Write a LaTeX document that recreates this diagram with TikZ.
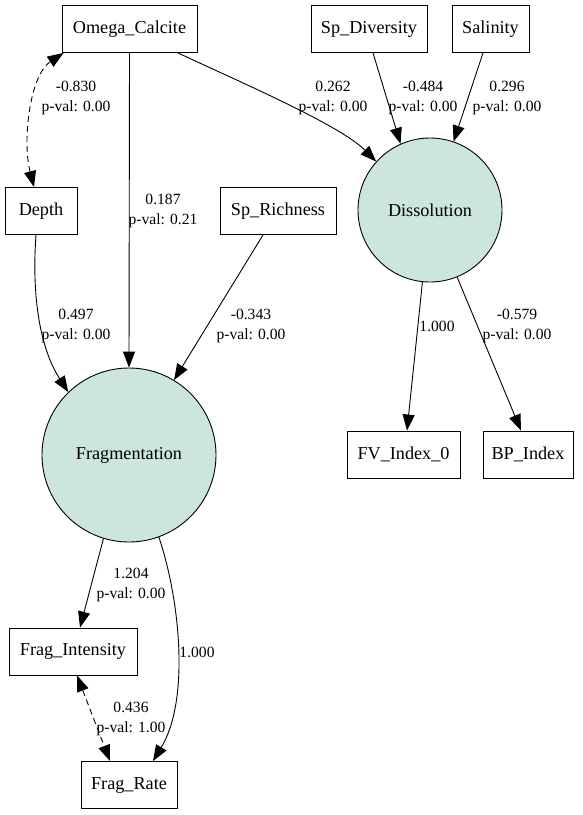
\documentclass[tikz,border=0pt]{standalone}
\usepackage{fontspec}
\setmainfont{Liberation Serif}
\usetikzlibrary{arrows.meta}
\definecolor{latfill}{RGB}{204,229,223}
\tikzset{
  obs/.style={draw, rectangle, line width=0.9pt, minimum height=47pt, inner sep=0pt, font=\fontsize{18.2}{22}\selectfont},
  lat/.style={draw, circle, fill=latfill, line width=0.9pt, inner sep=0pt, font=\fontsize{18.2}{22}\selectfont},
  lbl/.style={align=center, inner sep=0pt, font=\fontsize{15.6}{20}\selectfont},
  arr/.style={line width=0.9pt, -{Triangle[length=16pt,width=12pt]}},
  cov/.style={line width=0.9pt, dash pattern=on 6pt off 4pt, {Triangle[length=16pt,width=12pt]}-{Triangle[length=16pt,width=12pt]}}
}
\begin{document}
\begin{tikzpicture}[x=1pt,y=-1pt]
\useasboundingbox (0,0) rectangle (583,815);
% observed
\node[obs, minimum width=135pt] (omega) at (129.5,29) {Omega\_Calcite};
\node[obs, minimum width=116pt] (spd) at (369,29) {Sp\_Diversity};
\node[obs, minimum width=77pt] (sal) at (490.5,29) {Salinity};
\node[obs, minimum width=72pt] (depth) at (41,211) {Depth};
\node[obs, minimum width=116pt] (spr) at (278,211) {Sp\_Richness};
\node[obs, minimum width=113pt] (fv) at (403.5,454.5) {FV\_Index\_0};
\node[obs, minimum width=90pt] (bp) at (528,454.5) {BP\_Index};
\node[obs, minimum width=128pt] (fi) at (73,651.5) {Frag\_Intensity};
\node[obs, minimum width=96pt] (fr) at (129,785) {Frag\_Rate};
% latent
\node[lat, minimum size=144pt] (diss) at (430,210) {Dissolution};
\node[lat, minimum size=174pt] (frag) at (129,455) {Fragmentation};
% edges
\draw[cov] ([xshift=2pt]omega.south west) .. controls (30,75) and (22,140) .. ([xshift=-7pt]depth.north);
\draw[arr] (omega.south) -- (frag.90);
\draw[arr] ([xshift=48.5pt]omega.south) .. controls (240,82) and (340,125) .. (diss.138);
\draw[arr] ([xshift=4pt]spd.south) -- (diss.114);
\draw[arr] ([xshift=-7.5pt]sal.south) -- (diss.71);
\draw[arr] ([xshift=-5pt]depth.south) .. controls (32,290) and (38,345) .. (frag.134);
\draw[arr] ([xshift=-15pt]spr.south) -- (frag.59);
\draw[arr] (diss.264.5) -- ([xshift=3.5pt]fv.north);
\draw[arr] (diss.292.4) -- ([xshift=-7pt]bp.north);
\draw[arr] (frag.253) -- ([xshift=7pt]fi.north);
\draw[arr] (frag.290) .. controls (180,600) and (190,700) .. ([xshift=24pt]fr.north);
\draw[cov] ([xshift=4pt]fi.south) -- ([xshift=-19pt]fr.north);
% labels
\node[lbl] (l1) at (76,98) {-0.830\\p-val: 0.00};
\node[lbl] (l2) at (163,211) {0.187\\p-val: 0.21};
\node[lbl] (l3) at (333,98) {0.262\\p-val: 0.00};
\node[lbl] (l4) at (423,98) {-0.484\\p-val: 0.00};
\node[lbl] (l5) at (507,98) {0.296\\p-val: 0.00};
\node[lbl] (l6) at (76,326) {0.497\\p-val: 0.00};
\node[lbl] (l7) at (251,326) {-0.343\\p-val: 0.00};
\node[lbl] (l8) at (437,326) {1.000};
\node[lbl] (l9) at (517,326) {-0.579\\p-val: 0.00};
\node[lbl] (l10) at (131,585) {1.204\\p-val: 0.00};
\node[lbl] (l11) at (197,652) {1.000};
\node[lbl] (l12) at (131,719) {0.436\\p-val: 1.00};
\end{tikzpicture}
\end{document}
